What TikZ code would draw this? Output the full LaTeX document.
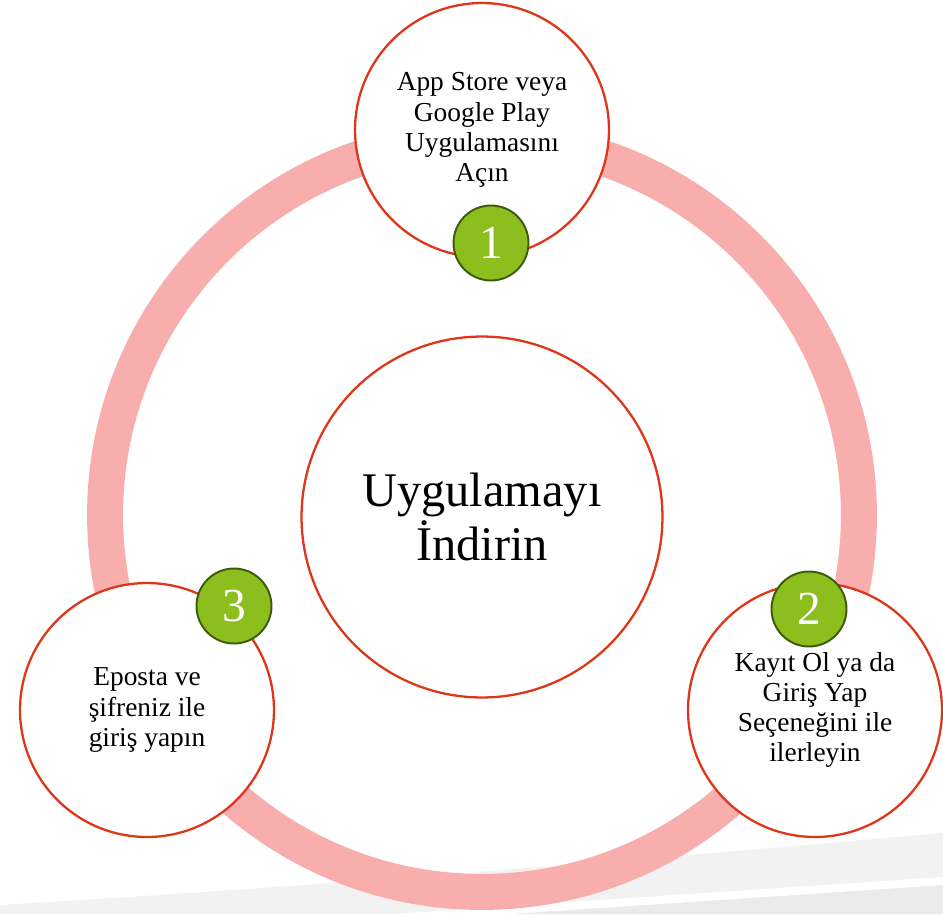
\documentclass[tikz,border=0pt]{standalone}
\usepackage{fontspec}
\setmainfont{Liberation Serif}
\usetikzlibrary{positioning}

\definecolor{ringpink}{HTML}{F7AEAD}
\definecolor{stepred}{RGB}{222,54,24}
\definecolor{badgegreen}{HTML}{8CBE1E}
\definecolor{badgeborder}{HTML}{3E5A0E}
\definecolor{bandlight}{HTML}{F2F2F2}
\definecolor{banddark}{HTML}{EBEBEB}

\begin{document}
\begin{tikzpicture}[x=0.02cm,y=-0.02cm,
  stepcircle/.style={circle,draw=stepred,line width=1.3pt,fill=white,
    minimum size=5.08cm,inner sep=0pt,align=center,
    font=\fontsize{15.6}{17.2}\selectfont},
  hubcircle/.style={stepcircle,minimum size=7.22cm,
    font=\fontsize{27.5}{30.5}\selectfont},
  badge/.style={circle,draw=badgeborder,line width=1.1pt,fill=badgegreen,
    minimum size=1.5cm,inner sep=0pt,text=white,
    font=\fontsize{27}{27}\selectfont},
  ring/.style={draw=ringpink,line width=0.72cm}]
\useasboundingbox (0,0) rectangle (943,914);

% background bands
\fill[bandlight] (0,905) .. controls (250,890) and (500,872) .. (943,833)
  -- (943,914) -- (0,914) -- cycle;
\fill[banddark] (510,914) -- (943,885) -- (943,914) -- cycle;
\fill[white] (391,914) -- (943,877) -- (943,885) -- (510,914) -- cycle;

% ring
\draw[ring] (482,515) circle [radius=7.54cm];

% circles
\node[hubcircle] (hub) at (482,517) {Uygulamayı\\İndirin};
\node[stepcircle] (store) at (482,130) {App Store veya\\Google Play\\Uygulamasını\\Açın};
\node[stepcircle] (signup) at (815,710) {Kayıt Ol ya da\\Giriş Yap\\Seçeneğini ile\\ilerleyin};
\node[stepcircle] (login) at (147,710) {Eposta ve\\şifreniz ile\\giriş yapın};

% badges
\node[badge] (one) at (491,243) {1};
\node[badge] (two) at (809,609) {2};
\node[badge] (three) at (234,606) {3};
\end{tikzpicture}
\end{document}
